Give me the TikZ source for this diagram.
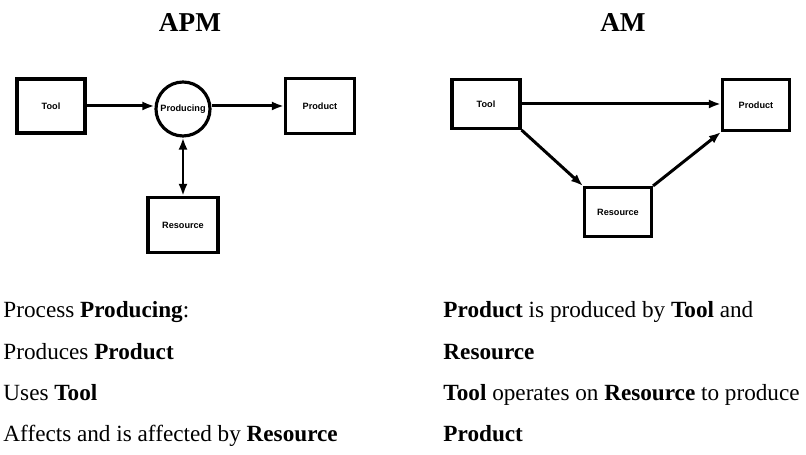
\documentclass[tikz,border=0pt]{standalone}
\usepackage{fontspec}
\setmainfont{Liberation Serif}
\setsansfont{Liberation Sans}
\usetikzlibrary{arrows.meta}

\tikzset{
  ent/.style={draw,line width=1.8pt,inner sep=0pt,
    font=\sffamily\bfseries\fontsize{5.2}{6}\selectfont},
  proc/.style={ent,circle,minimum size=1.08cm},
  ttl/.style={anchor=base,inner sep=0pt,font=\bfseries\fontsize{15.5}{18}\selectfont},
  txt/.style={anchor=base west,inner sep=0pt,font=\fontsize{13.2}{15}\selectfont}
}

\begin{document}
\begin{tikzpicture}[->,>={Latex[length=2.4mm,width=1.8mm]},line width=1.7pt,x=0.02cm,y=-0.02cm]
  \useasboundingbox (0,0) rectangle (806,455);

  % left: APM
  \node[ttl] (apm) at (190,32) {APM};
  \node[ent,minimum width=1.36cm,minimum height=1.08cm] (tool1) at (51,106) {Tool};
  \node[proc] (producing) at (183,109) {Producing};
  \node[ent,minimum width=1.38cm,minimum height=1.1cm] (product1) at (320,106) {Product};
  \node[ent,minimum width=1.4cm,minimum height=1.1cm] (resource1) at (183,225) {Resource};
  \draw (tool1.east) -- (tool1.east -| producing.west);
  \draw (producing.east |- product1.west) -- (product1.west);
  \draw[<->] (producing) -- (resource1);

  % right: AM
  \node[ttl] (am) at (623,32) {AM};
  \node[ent,minimum width=1.36cm,minimum height=0.98cm] (tool2) at (486,104) {Tool};
  \node[ent,minimum width=1.34cm,minimum height=1.02cm] (product2) at (756,105) {Product};
  \node[ent,minimum width=1.34cm,minimum height=0.98cm] (resource2) at (618,212) {Resource};
  \draw (tool2) -- (tool2 -| product2.west);
  \draw (tool2.south east) -- (resource2.north west);
  \draw (resource2.north east) -- (product2.south west);

  % text below
  \node[txt] (l1) at (2,318) {Process \textbf{Producing}:};
  \node[txt] (l2) at (2,360) {Produces \textbf{Product}};
  \node[txt] (l3) at (2,401) {Uses \textbf{Tool}};
  \node[txt] (l4) at (2,442) {Affects and is affected by \textbf{Resource}};
  \node[txt] (r1) at (442,318) {\textbf{Product} is produced by \textbf{Tool} and};
  \node[txt] (r2) at (442,360) {\textbf{Resource}};
  \node[txt] (r3) at (442,401) {\textbf{Tool} operates on \textbf{Resource} to produce};
  \node[txt] (r4) at (442,442) {\textbf{Product}};
\end{tikzpicture}
\end{document}
